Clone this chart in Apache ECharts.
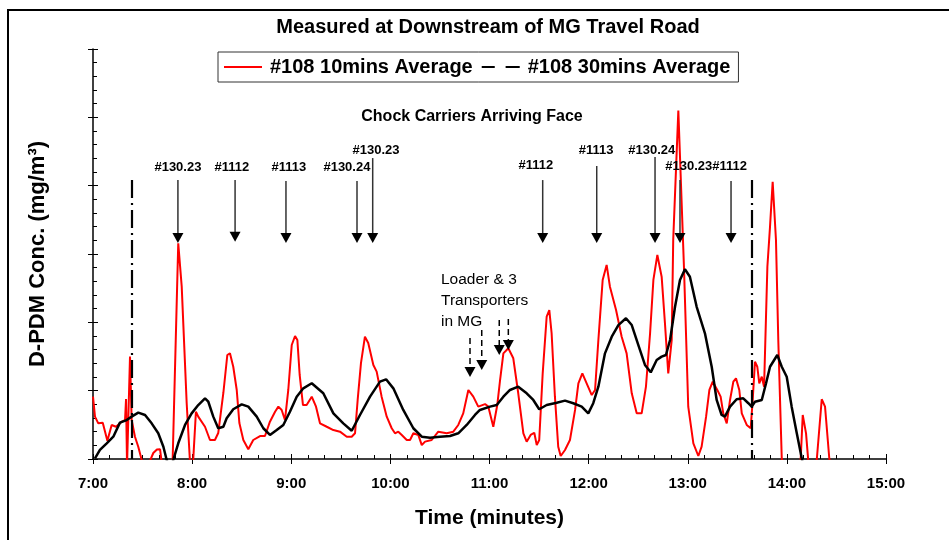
<!DOCTYPE html>
<html>
<head>
<meta charset="utf-8">
<script src="https://cdn.jsdelivr.net/npm/echarts@6/dist/echarts.min.js"></script>
<style>html,body{margin:0;padding:0;background:#fff}#c{width:949px;height:540px}</style>
</head>
<body>
<div id="c"></div>
<script>
// ---- data (x = minutes since midnight, y = D-PDM concentration) ----
const redT = [
 420, 421.2, 423.2, 425.9, 428.7, 431.3, 433.9, 437.4, 439.4, 440.0,
 440.6, 441.8, 442.4, 443.4, 445.4, 447.4, 450.4, 453.9, 456.5, 458.7,
 460.6, 461.8, 464.8, 468.2, 471.6, 473.7, 476.7, 478.7, 480.5, 482.3,
 483.7, 487.8, 490.8, 493.8, 495.8, 498.9, 501.3, 502.9, 504.9, 507.0,
 508.6, 511.0, 514.0, 517.0, 521.1, 524.1, 527.1, 530.2, 532.2, 534.2,
 536.2, 538.2, 540.3, 542.3, 543.7, 545.1, 547.1, 549.3, 552.4, 555.0,
 557.4, 561.5, 565.5, 569.5, 573.6, 576.6, 578.6, 580.2, 582.2, 584.6,
 586.6, 589.7, 591.7, 594.7, 597.8, 600.8, 602.8, 604.8, 606.9, 609.9,
 611.9, 613.9, 616.9, 619.0, 621.0, 625.0, 629.0, 634.1, 638.1, 641.1,
 644.1, 647.2, 650.2, 653.2, 654.2, 657.3, 659.3, 662.3, 664.7, 666.4,
 668.4, 671.4, 674.4, 677.4, 680.5, 682.5, 684.9, 687.1, 688.6, 690.1,
 692.2, 694.6, 696.2, 697.6, 699.6, 701.6, 703.1, 705.7, 708.7, 711.8,
 713.8, 716.2, 718.8, 721.9, 723.9, 725.9, 728.5, 730.9, 732.9, 736.6,
 740.0, 743.0, 746.1, 749.1, 752.1, 754.7, 757.2, 759.2, 761.6, 764.2,
 766.2, 768.2, 770.3, 771.2, 774.3, 775.3, 777.7, 780.3, 783.4, 786.4,
 788.4, 791.1, 793.1, 795.1, 797.9, 799.9, 801.5, 803.6, 805.6, 807.6,
 809.2, 811.2, 812.7, 815.7, 818.1, 819.3, 820.7, 822.1, 823.3, 824.8,
 826.2, 828.2, 829.8, 831.4, 833.4, 834.8, 836.9, 838.3, 847.9, 849.6,
 851.6, 853.0, 855.2, 858.0, 861.1, 863.1, 865.7, 867.9
];
const redV = [
 0.456, 0.31, 0.261, 0.266, 0.134, 0.249, 0.236, 0.273, 0.285, 0.439,
 -0.05, -0.05, 0.749, 0.285, 0.163, 0.09, -0.05, -0.03, 0.044, 0.07,
 0.071, -0.05, -0.12, -0.01, 1.578, 1.261, 0.41, -0.02, -0.04, 0.346,
 0.31, 0.236, 0.139, 0.139, 0.19, 0.483, 0.761, 0.773, 0.675, 0.505,
 0.263, 0.139, 0.071, 0.139, 0.168, 0.168, 0.273, 0.346, 0.383, 0.359,
 0.285, 0.505, 0.834, 0.9, 0.871, 0.615, 0.395, 0.395, 0.456, 0.383,
 0.261, 0.236, 0.212, 0.2, 0.163, 0.163, 0.188, 0.432, 0.702, 0.895,
 0.849, 0.688, 0.639, 0.456, 0.31, 0.225, 0.188, 0.2, 0.176, 0.139,
 0.139, 0.188, 0.176, 0.102, 0.127, 0.139, 0.2, 0.188, 0.2, 0.249,
 0.334, 0.505, 0.456, 0.383, 0.371, 0.402, 0.383, 0.236, 0.395, 0.578,
 0.773, 0.81, 0.737, 0.481, 0.188, 0.127, 0.176, 0.192, 0.102, 0.139,
 0.627, 1.041, 1.09, 0.92, 0.456, 0.09, 0.022, 0.066, 0.139, 0.359,
 0.554, 0.627, 0.554, 0.468, 0.505, 0.871, 1.31, 1.42, 1.261, 1.09,
 0.895, 0.773, 0.481, 0.334, 0.334, 0.529, 0.92, 1.31, 1.493, 1.334,
 0.993, 0.627, 0.871, 1.602, 2.549, 2.554, 1.407, 0.383, 0.115, 0.022,
 0.09, 0.31, 0.505, 0.566, 0.505, 0.456, 0.334, 0.261, 0.432, 0.566,
 0.59, 0.505, 0.334, 0.249, 0.225, 0.432, 0.712, 0.675, 0.554, 0.602,
 0.529, 1.407, 1.70, 2.029, 1.602, 0.871, 0.005, -0.12, -0.12, 0.322,
 0.188, -0.02, -0.12, -0.02, 0.437, 0.383, 0.0, -0.08
];
const blackT = [
 421.2, 424.2, 428.3, 432.3, 436.3, 440.4, 443.4, 447.4, 451.5, 455.5,
 459.5, 462.6, 464.6, 466.6, 468.6, 471.6, 475.7, 479.7, 483.7, 487.8,
 489.8, 492.8, 495.8, 498.9, 500.9, 504.9, 510.0, 514.0, 519.1, 523.1,
 527.1, 531.2, 535.2, 539.2, 543.3, 547.3, 552.4, 559.4, 565.5, 571.5,
 576.6, 581.6, 587.7, 593.7, 597.4, 601.8, 607.8, 613.9, 619.0, 624.0,
 630.0, 636.1, 641.1, 646.2, 651.2, 654.2, 660.3, 664.4, 668.4, 672.4,
 677.4, 682.5, 686.5, 690.1, 694.6, 700.7, 705.7, 710.7, 715.8, 719.8,
 722.8, 725.9, 729.9, 734.0, 738.0, 742.6, 746.1, 750.1, 754.1, 757.6,
 761.2, 764.2, 766.8, 769.3, 772.3, 775.3, 778.3, 781.3, 785.4, 790.4,
 794.5, 797.5, 800.5, 802.5, 805.6, 809.6, 813.6, 816.7, 818.7, 820.7,
 824.8, 827.4, 829.8, 834.2, 836.9, 839.9, 842.9, 846.0, 849.0, 851.0
];
const blackV = [
 0.005, 0.066, 0.115, 0.163, 0.266, 0.285, 0.31, 0.339, 0.322, 0.261,
 0.188, 0.09, -0.007, -0.08, -0.007, 0.115, 0.249, 0.334, 0.395, 0.444,
 0.419, 0.31, 0.225, 0.236, 0.298, 0.364, 0.4, 0.383, 0.31, 0.225,
 0.176, 0.212, 0.249, 0.346, 0.456, 0.517, 0.554, 0.481, 0.334, 0.261,
 0.207, 0.322, 0.456, 0.566, 0.583, 0.517, 0.359, 0.225, 0.163, 0.156,
 0.163, 0.168, 0.188, 0.249, 0.322, 0.359, 0.383, 0.395, 0.456, 0.505,
 0.529, 0.481, 0.432, 0.364, 0.395, 0.412, 0.427, 0.408, 0.383, 0.334,
 0.408, 0.529, 0.773, 0.895, 0.98, 1.03, 0.98, 0.834, 0.688, 0.634,
 0.724, 0.749, 0.761, 0.871, 1.114, 1.31, 1.388, 1.334, 1.114, 0.92,
 0.675, 0.432, 0.322, 0.31, 0.383, 0.437, 0.444, 0.408, 0.383, 0.419,
 0.432, 0.554, 0.675, 0.761, 0.675, 0.602, 0.383, 0.188, 0.005, -0.12
];
const seriesNames = ['#108 10mins Average', '#108 30mins Average'];
const xTickMinutes = [420, 480, 540, 600, 660, 720, 780, 840, 900];

// chock carrier arrivals (arrow annotations)
const arrowLabels = ['#130.23', '#1112', '#1113', '#130.24', '#130.23', '#1112', '#1113', '#130.24', '#130.23', '#1112'];
const arrowTimes  = [471.4, 506.0, 536.8, 579.8, 589.3, 692.2, 724.9, 760.2, 775.3, 806.2];
const arrowTops   = [2.041, 2.041, 2.034, 2.034, 2.202, 2.041, 2.144, 2.209, 2.041, 2.034];
const arrowTips   = [1.58, 1.59, 1.58, 1.58, 1.58, 1.58, 1.58, 1.58, 1.58, 1.58];
const labelTimes  = [471.4, 504.1, 538.6, 573.7, 591.3, 688.1, 724.5, 758.2, 780.6, 805.4];
const labelValues = [2.137, 2.137, 2.137, 2.137, 2.256, 2.146, 2.256, 2.256, 2.139, 2.139];
// loader & transporters (dashed arrows)
const loaderTimes = [648.2, 655.3, 665.9, 671.4];
const loaderTops  = [0.885, 0.944, 1.017, 1.024];
const loaderTips  = [0.600, 0.651, 0.761, 0.798];
// shift markers (dash-dot verticals)
const shiftTimes = [443.4, 818.9];
const shiftTop = 2.041;

const FONT = '"Liberation Sans", Arial, sans-serif';
const chart = echarts.init(document.getElementById('c'), null, {renderer: 'canvas'});

function arrowRender(dashed) {
  return function (params, api) {
    const t = api.value(0), top = api.value(1), tip = api.value(2);
    const p1 = api.coord([t, top]), p2 = api.coord([t, tip]);
    const h = 10, w = 5.5;
    return {
      type: 'group',
      children: [
        {type: 'line', shape: {x1: p1[0], y1: p1[1], x2: p2[0], y2: p2[1] - h + 1},
         style: {stroke: dashed ? '#000' : '#333', lineWidth: 1.5, lineDash: dashed ? [6, 4] : null}},
        {type: 'polygon', shape: {points: [[p2[0] - w, p2[1] - h], [p2[0] + w, p2[1] - h], [p2[0], p2[1]]]},
         style: {fill: '#000'}}
      ]
    };
  };
}

const option = {
  backgroundColor: '#fff',
  animation: false,
  grid: {left: 93, right: 63, top: 49, bottom: 81},
  legend: {
    left: 218, top: 52,
    padding: [5, 8, 5, 6],
    borderColor: '#333', borderWidth: 1, backgroundColor: '#fff',
    itemWidth: 38, itemHeight: 14, itemGap: 9,
    textStyle: {fontSize: 20, fontWeight: 'bold', color: '#000', fontFamily: FONT, padding: [0, 0, 0, 3]},
    data: [
      {name: seriesNames[0], icon: 'path://M0,0h38v2h-38z', itemStyle: {color: '#ff0000'}},
      {name: seriesNames[1], icon: 'path://M0,0h12v2h-12zM22,0h13v2h-13z', itemStyle: {color: '#000'}}
    ]
  },
  xAxis: [
    {
      type: 'value', min: 420, max: 900, interval: 60, position: 'bottom',
      axisLine: {lineStyle: {color: '#000', width: 1.5}},
      axisTick: {inside: true, length: 5, lineStyle: {color: '#000', width: 1}},
      minorTick: {show: true, splitNumber: 6, length: 4, lineStyle: {color: '#000', width: 1}},
      splitLine: {show: false},
      axisLabel: {margin: 17, fontSize: 15, fontWeight: 'bold', color: '#000', fontFamily: FONT,
        formatter: v => (xTickMinutes.indexOf(v) >= 0 ? Math.round(v / 60) + ':00' : '')},
      name: 'Time (minutes)', nameLocation: 'middle', nameGap: 49,
      nameTextStyle: {fontSize: 21, fontWeight: 'bold', color: '#000', fontFamily: FONT}
    },
    {
      type: 'value', min: 420, max: 900, interval: 60, position: 'bottom',
      axisLine: {show: false},
      axisTick: {inside: false, length: 5, lineStyle: {color: '#000', width: 1}},
      axisLabel: {show: false}, splitLine: {show: false}
    }
  ],
  yAxis: [
    {
      type: 'value', min: 0, max: 3, interval: 0.5, position: 'left',
      axisLine: {show: true, lineStyle: {color: '#000', width: 1.5}},
      axisTick: {show: true, inside: true, length: 5, lineStyle: {color: '#000'}},
      minorTick: {show: true, splitNumber: 5, length: 4, lineStyle: {color: '#000'}},
      splitLine: {show: false},
      axisLabel: {show: false},
      name: 'D-PDM Conc. (mg/m³)', nameLocation: 'middle', nameGap: 44,
      nameTextStyle: {fontSize: 22, fontWeight: 'bold', color: '#000', fontFamily: FONT}
    },
    {
      type: 'value', min: 0, max: 3, interval: 0.5, position: 'left',
      axisLine: {show: false},
      axisTick: {show: true, inside: false, length: 5, lineStyle: {color: '#000'}},
      axisLabel: {show: false}, splitLine: {show: false}
    }
  ],
  series: [
    {
      name: seriesNames[0], type: 'line', xAxisIndex: 0, yAxisIndex: 0,
      data: redT.map((t, i) => [t, redV[i]]),
      symbol: 'none', smooth: false, clip: true,
      lineStyle: {color: '#ff0000', width: 2}, itemStyle: {color: '#ff0000'},
      z: 3,
      markLine: {
        silent: true, symbol: ['none', 'none'], animation: false,
        label: {show: false},
        lineStyle: {color: '#000', width: 2.2, type: [18, 5, 2, 5]},
        data: shiftTimes.map(t => [{coord: [t, shiftTop]}, {coord: [t, 0]}])
      }
    },
    {
      name: seriesNames[1], type: 'line', xAxisIndex: 0, yAxisIndex: 0,
      data: blackT.map((t, i) => [t, blackV[i]]),
      symbol: 'none', smooth: false, clip: true,
      lineStyle: {color: '#000', width: 2.5}, itemStyle: {color: '#000'},
      z: 4
    },
    {
      type: 'custom', name: 'arrows', xAxisIndex: 0, yAxisIndex: 0, silent: true,
      data: arrowTimes.map((t, i) => [t, arrowTops[i], arrowTips[i]]),
      renderItem: arrowRender(false), z: 5
    },
    {
      type: 'custom', name: 'loaderArrows', xAxisIndex: 0, yAxisIndex: 0, silent: true,
      data: loaderTimes.map((t, i) => [t, loaderTops[i], loaderTips[i]]),
      renderItem: arrowRender(true), z: 5
    },
    {
      type: 'custom', name: 'arrowLabels', xAxisIndex: 0, yAxisIndex: 0, silent: true,
      data: labelTimes.map((t, i) => [t, labelValues[i]]),
      renderItem: function (params, api) {
        const p = api.coord([api.value(0), api.value(1)]);
        return {type: 'text', x: p[0], y: p[1],
          style: {text: arrowLabels[params.dataIndex], font: 'bold 13px ' + FONT, fill: '#000',
                  align: 'center', verticalAlign: 'middle'}};
      }, z: 6
    }
  ],
  graphic: [
    {type: 'rect', shape: {x: 8, y: 10, width: 1000, height: 1000}, style: {fill: 'none', stroke: '#000', lineWidth: 2}, z: 100, silent: true},
    {type: 'text', x: 488, y: 27, style: {text: 'Measured at Downstream of MG Travel Road', font: 'bold 20px ' + FONT, fill: '#000', align: 'center', verticalAlign: 'middle'}},
    {type: 'text', x: 472, y: 117, style: {text: 'Chock Carriers Arriving Face', font: 'bold 16px ' + FONT, fill: '#000', align: 'center', verticalAlign: 'middle'}},
    {type: 'text', x: 441, y: 269, style: {text: 'Loader & 3\nTransporters\nin MG', font: '15.5px ' + FONT, fill: '#000', lineHeight: 21, align: 'left', verticalAlign: 'top'}}
  ]
};
chart.setOption(option);
</script>
</body>
</html>
